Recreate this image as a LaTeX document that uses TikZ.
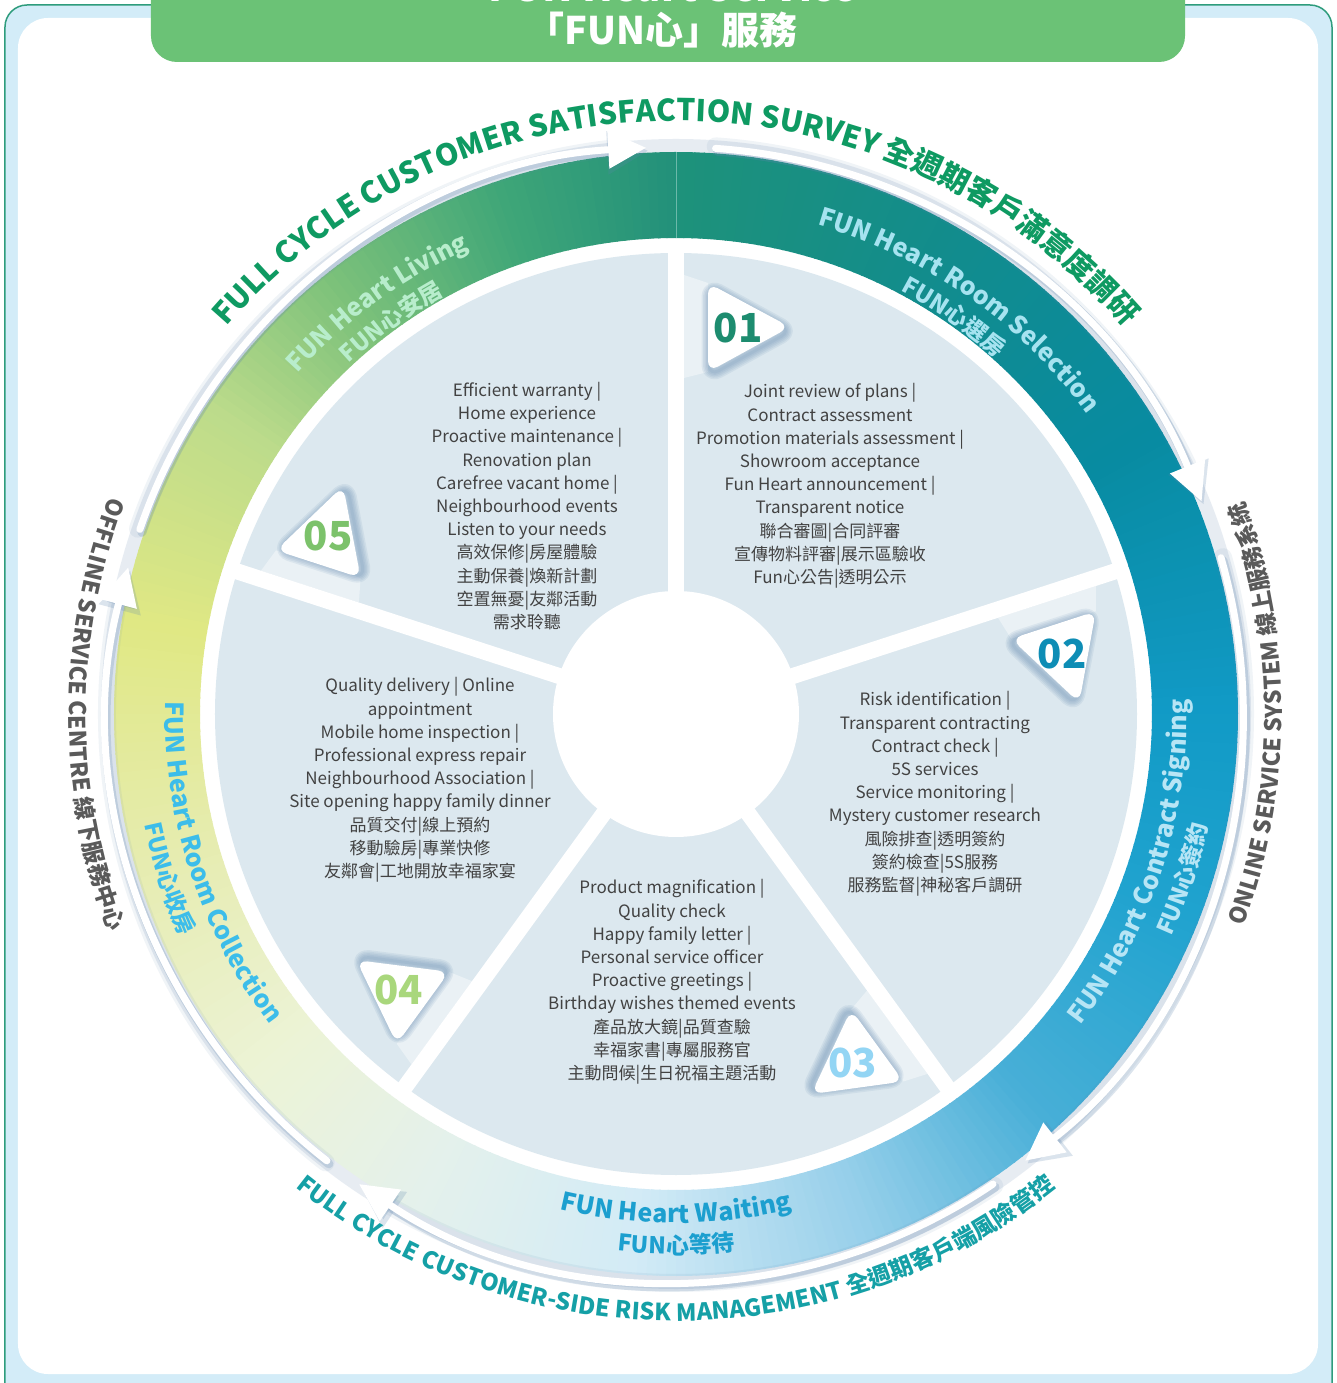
\documentclass[tikz,border=0pt]{standalone}
\usepackage{fontspec}
\setmainfont{Noto Sans CJK TC}
\usetikzlibrary{arrows.meta,decorations.text}

\definecolor{frameblue}{HTML}{D3ECF8}
\definecolor{framegreen}{HTML}{2E9C7C}
\definecolor{headgreen}{HTML}{6BC276}
\definecolor{sectorbg}{HTML}{DCE8EF}
\definecolor{bodytext}{HTML}{424242}
\definecolor{shadowblue}{HTML}{5F86AE}
\definecolor{surveygreen}{HTML}{0E9A62}
\definecolor{riskteal}{HTML}{15A0A6}
\definecolor{servicegray}{HTML}{5A5A5A}
\definecolor{livingtxt}{HTML}{B8EDCC}
\definecolor{selecttxt}{HTML}{A6E3F0}
\definecolor{signtxt}{HTML}{B7E5F5}
\definecolor{waittxt}{HTML}{1C9FCF}
\definecolor{collecttxt}{HTML}{3CBDEA}
\definecolor{numA}{HTML}{1D8C6F}
\definecolor{numB}{HTML}{0E8DB5}
\definecolor{numC}{HTML}{93D5F4}
\definecolor{numD}{HTML}{A9D77C}
\definecolor{numE}{HTML}{7CC26B}
% ring colour stops, by angle
\definecolor{r1}{HTML}{23917A}
\definecolor{r2}{HTML}{3FA678}
\definecolor{r3}{HTML}{7CC17A}
\definecolor{r4}{HTML}{BCDB8B}
\definecolor{r5}{HTML}{E0E884}
\definecolor{r6}{HTML}{E6ECB0}
\definecolor{r7}{HTML}{ECF3D6}
\definecolor{r8}{HTML}{E4F1EC}
\definecolor{r9}{HTML}{D3EBF6}
\definecolor{r10}{HTML}{96CFEA}
\definecolor{r11}{HTML}{48AFD7}
\definecolor{r12}{HTML}{20A3CF}
\definecolor{r13}{HTML}{119AC6}
\definecolor{r14}{HTML}{088BA1}
\definecolor{r15}{HTML}{128C8C}
\definecolor{r16}{HTML}{1E927A}

\newcommand{\bodyfont}{\fontsize{17}{23.2}\selectfont}
\newcommand{\labelfont}{\bfseries\fontsize{25}{27}\selectfont}
\newcommand{\labelzhfont}{\bfseries\fontsize{23}{25}\selectfont}
\newcommand{\surveyfont}{\bfseries\fontsize{30}{32}\selectfont}
\newcommand{\sidefont}{\bfseries\fontsize{23}{25}\selectfont}
\newcommand{\riskfont}{\bfseries\fontsize{23.5}{25}\selectfont}
\newcommand{\numfont}{\bfseries\fontsize{40}{40}\selectfont}

\tikzset{
  sectortext/.style={align=center, font=\bodyfont, text=bodytext, inner sep=0pt},
  flowarrow/.style={white, line width=7pt, line cap=round, -{Triangle[length=38pt,width=36pt]}},
  arrowshadow/.style={shadowblue, line width=9pt, opacity=0.22, line cap=round, -{Triangle[length=41pt,width=41pt]}},
  arrowglow/.style={shadowblue, line width=18pt, opacity=0.09, line cap=round},
  badge/.style={white, rounded corners=11pt},
  badgeshadow/.style={shadowblue, opacity=0.11, line join=round, rounded corners=11pt},
  beam/.style={white, opacity=0.4},
  ringtext/.style={decorate, decoration={text along path, text align=center, #1}},
}

\begin{document}
\begin{tikzpicture}[x=1pt, y=1pt]
    \path[use as bounding box, clip] (-676,-669) rectangle (661,714);

    % Frame and white panel
    \fill[frameblue, rounded corners=22pt] (-671,709) rectangle (656,-700);
    \draw[framegreen, line width=1.5pt, rounded corners=22pt] (-671,709) rectangle (656,-700);
    \fill[white, rounded corners=30pt] (-658,696) rectangle (642,-660);

    % Header tab
    \fill[headgreen, rounded corners=26pt] (-525,760) rectangle (509,652);
    \node[anchor=base, text=white, font=\bfseries\fontsize{40}{40}\selectfont] (headen) at (-4,712) {FUN Heart Service};
    \node[text=white, font=\bfseries\fontsize{38}{40}\selectfont] (headzh) at (-14,684) {「FUN心」服務};

    % Ring shadow
    \draw[shadowblue, opacity=0.15, line width=18pt] (0,0) circle (566);

    % Ring, coloured wedge by wedge
    \foreach \a/\b/\ca/\cb in {-270/-252/r1/r2, -252/-232/r2/r3, -232/-214/r3/r4, -214/-190/r4/r5,
        -190/-165/r5/r6, -165/-140/r6/r7, -140/-118/r7/r8, -118/-95/r8/r9, -95/-70/r9/r10,
        -70/-48/r10/r11, -48/-22/r11/r12, -22/0/r12/r13, 0/30/r13/r14, 30/60/r14/r15, 60/90/r15/r16}{
      \pgfmathtruncatemacro{\bm}{\b-1}
      \foreach \t in {\a,...,\bm}{
        \pgfmathsetmacro{\p}{100*(\t-\a)/(\b-\a)}
        \fill[\cb!\p!\ca] (\t:476) arc[start angle=\t, end angle=\t+1.15, radius=476]
          -- ({\t+1.15}:562) arc[start angle=\t+1.15, end angle=\t, radius=562] -- cycle;
      }
    }
    \draw[white, opacity=0.35, line width=0.8pt] (90:476) -- (90:562);

    % Sectors
    \fill[sectorbg] (0,0) circle (461);
    \foreach \a in {18,90,...,306}
      \draw[white, line width=16pt] (0,0) -- (\a:470);
    \fill[white] (0,0) circle (123);

    % Number badges
    \foreach \k/\num/\col in {0/01/numA, 1/02/numB, 2/03/numC, 3/04/numD, 4/05/numE}{
      \begin{scope}[rotate=-72*\k]
        \fill[beam] (8,439) -- (32,431) -- (32,342) -- (8,336) -- cycle;
        \foreach \s in {3,6,...,15}
          \draw[badgeshadow, line width=\s pt] (33,428) -- (115,383) -- (33,338) -- cycle;
        \fill[badge] (32,431) -- (114,387) -- (32,342) -- cycle;
        \node[font=\numfont, text=\col] (n\num) at (62,386) {\num};
      \end{scope}
    }

    % Sector texts
    \node[sectortext] (t05) at (-149,208) {Efficient warranty |\\Home experience\\Proactive maintenance |\\Renovation plan\\Carefree vacant home |\\Neighbourhood events\\Listen to your needs\\高效保修|房屋體驗\\主動保養|煥新計劃\\空置無憂|友鄰活動\\需求聆聽};
    \node[sectortext] (t01) at (154,228) {Joint review of plans |\\Contract assessment\\Promotion materials assessment |\\Showroom acceptance\\Fun Heart announcement |\\Transparent notice\\聯合審圖|合同評審\\宣傳物料評審|展示區驗收\\Fun心公告|透明公示};
    \node[sectortext] (t02) at (259,-80) {Risk identification |\\Transparent contracting\\Contract check |\\5S services\\Service monitoring |\\Mystery customer research\\風險排查|透明簽約\\簽約檢查|5S服務\\服務監督|神秘客戶調研};
    \node[sectortext] (t03) at (-4,-268) {Product magnification |\\Quality check\\Happy family letter |\\Personal service officer\\Proactive greetings |\\Birthday wishes themed events\\產品放大鏡|品質查驗\\幸福家書|專屬服務官\\主動問候|生日祝福主題活動};
    \node[sectortext] (t04) at (-256,-66) {Quality delivery | Online\\appointment\\Mobile home inspection |\\Professional express repair\\Neighbourhood Association |\\Site opening happy family dinner\\品質交付|線上預約\\移動驗房|專業快修\\友鄰會|工地開放幸福家宴};

    % Ring labels
    \path[ringtext={text color=livingtxt, text={|\labelfont|FUN Heart Living}}] (156:509) arc[start angle=156, end angle=96, radius=509];
    \path[ringtext={text color=livingtxt, text={|\labelzhfont|FUN心安居}}] (156:479) arc[start angle=156, end angle=96, radius=479];
    \path[ringtext={text color=selecttxt, text={|\labelfont|FUN Heart Room Selection}}] (85:509) arc[start angle=85, end angle=25, radius=509];
    \path[ringtext={text color=selecttxt, text={|\labelzhfont|FUN心選房}}] (85:479) arc[start angle=85, end angle=25, radius=479];
    \path[ringtext={text color=signtxt, text={|\labelfont|FUN Heart Contract Signing}}] (-53:511) arc[start angle=-53, end angle=17, radius=511];
    \path[ringtext={text color=signtxt, text={|\labelzhfont|FUN心簽約}}] (-53:543) arc[start angle=-53, end angle=17, radius=543];
    \path[ringtext={text color=waittxt, text={|\labelfont|FUN Heart Waiting}}] (240:509) arc[start angle=240, end angle=300, radius=509];
    \path[ringtext={text color=waittxt, text={|\labelzhfont|FUN心等待}}] (240:540) arc[start angle=240, end angle=300, radius=540];
    \path[ringtext={text color=collecttxt, text={|\labelfont|FUN Heart Room Collection}}] (163:511) arc[start angle=163, end angle=233, radius=511];
    \path[ringtext={text color=collecttxt, text={|\labelzhfont|FUN心收房}}] (163:543) arc[start angle=163, end angle=233, radius=543];

    % Flow arrows round the ring
    \foreach \s/\e in {161/93, 86/22, 16/-52, -56/-124, -128/-195}{
      \draw[arrowglow] (\s:569) arc[start angle=\s, end angle=\e+4, radius=569];
      \draw[arrowshadow, shift={(2,-3)}] (\s:567) arc[start angle=\s, end angle=\e, radius=567];
    }
    \foreach \s/\e in {161/93, 86/22, 16/-52, -56/-124, -128/-195}
      \draw[flowarrow] (\s:567) arc[start angle=\s, end angle=\e, radius=567];

    % Outer captions
    \path[ringtext={text color=surveygreen, text={|\surveyfont|FULL CYCLE CUSTOMER SATISFACTION SURVEY 全週期客戶滿意度調研}}] (160:593) arc[start angle=160, end angle=20, radius=593];
    \path[ringtext={text color=servicegray, text={|\sidefont|ONLINE SERVICE SYSTEM 線上服務系統}}] (-40:606) arc[start angle=-40, end angle=40, radius=606];
    \path[ringtext={text color=servicegray, text={|\sidefont|OFFLINE SERVICE CENTRE 線下服務中心}}] (140:607) arc[start angle=140, end angle=220, radius=607];
    \path[ringtext={text color=riskteal, text={|\riskfont|FULL CYCLE CUSTOMER-SIDE RISK MANAGEMENT 全週期客戶端風險管控}}] (215:607) arc[start angle=215, end angle=325, radius=607];
\end{tikzpicture}
\end{document}
